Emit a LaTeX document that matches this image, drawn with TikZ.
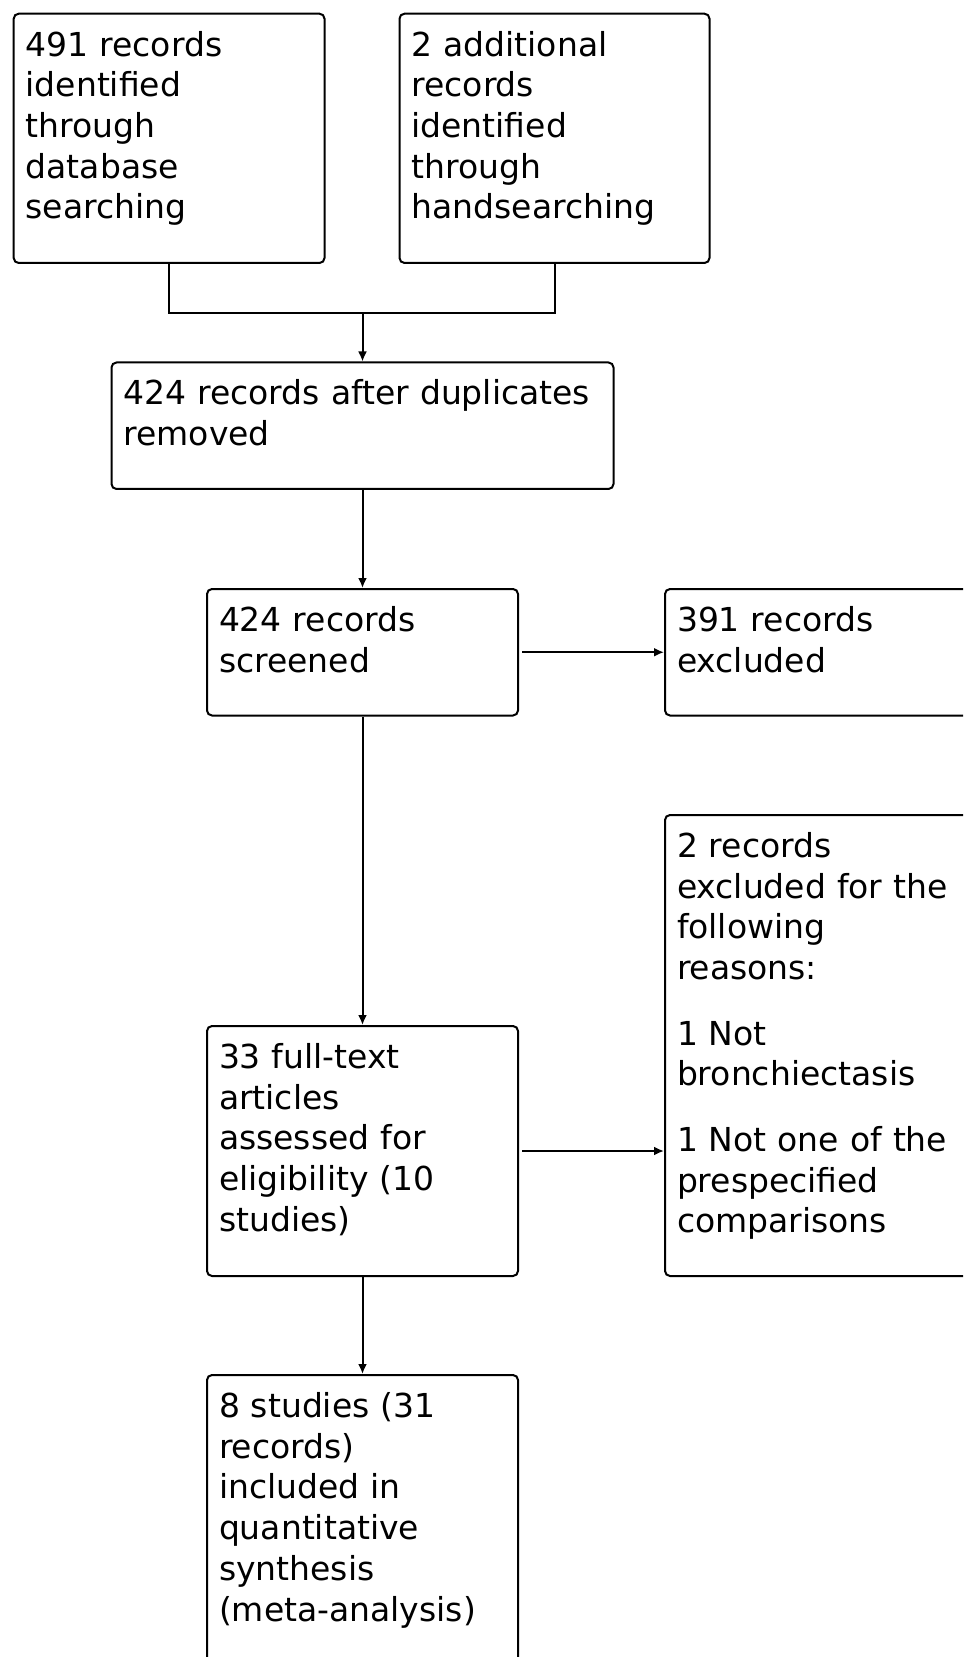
\documentclass[tikz,border=0pt]{standalone}
\usepackage{fontspec}
\setmainfont{DejaVu Sans}
\usetikzlibrary{arrows.meta}

\begin{document}
\begin{tikzpicture}[x=0.5pt, y=-0.5pt, line width=1pt, >={Latex[length=5pt,width=4.5pt]},
  flow node/.style={draw, rounded corners=2.5pt, anchor=north west, align=left, inner xsep=6pt, inner ysep=0pt, text height=21.25pt, font=\fontsize{16.5}{20.35}\selectfont}]
\useasboundingbox (0,0) rectangle (963,1657);
\clip (0,0) rectangle (963,1657);
\node[flow node, text width=143.4pt, text depth=103.4pt] (b0) at (12.7,12.7) {491 records\\identified\\through\\database\\searching};
\node[flow node, text width=143pt, text depth=103.4pt] (b1) at (398.5,12.7) {2 additional\\records\\identified\\through\\handsearching};
\node[flow node, text width=239pt, text depth=42pt] (b2) at (110.5,361.5) {424 records after duplicates\\removed};
\node[flow node, text width=143.5pt, text depth=42pt] (b3) at (206,588) {424 records\\screened};
\node[flow node, text width=148pt, text depth=42pt] (b4) at (664,588) {391 records\\excluded};
\node[flow node, text width=148pt, text depth=209.25pt] (b5) at (664,814) {2 records\\excluded for the\\following\\reasons:\\[12.4pt]1 Not\\bronchiectasis\\[12.4pt]1 Not one of the\\prespecified\\comparisons};
\node[flow node, text width=143.5pt, text depth=103.75pt] (b6) at (206,1025) {33 full-text\\articles\\assessed for\\eligibility (10\\studies)};
\node[flow node, text width=143.5pt, text depth=138.75pt] (b7) at (206,1374) {8 studies (31\\records)\\included in\\quantitative\\synthesis\\(meta-analysis)};

\coordinate (join) at (b2.north |- 0,313);
\draw (b0.south) |- (join) -| (b1.south);
\draw [->] (join) -- (b2);
\draw [->] (b2) -- (b3);
\draw [->, shorten <=1.5pt] (b3) -- (b4);
\draw [->] (b3) -- (b6);
\draw [->, shorten <=1.5pt] (b6.east) -- (b6.east -| b5.west);
\draw [->] (b6) -- (b7);
\end{tikzpicture}
\end{document}
